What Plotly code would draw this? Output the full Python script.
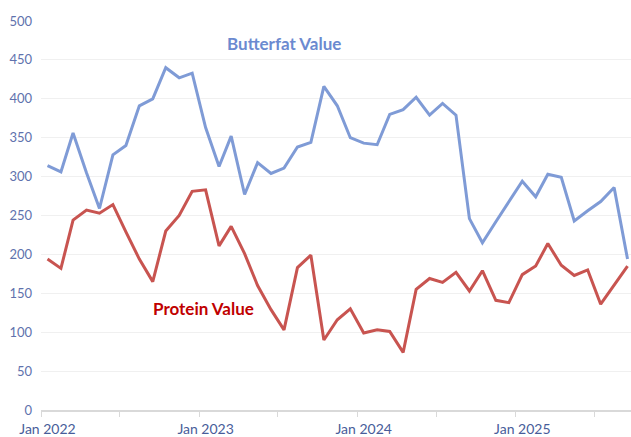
import pandas as pd
import plotly.graph_objs as go

FONT = "Lato"
BLUE_LINE = "#7f9bd6"
RED_LINE = "#c85450"

# monthly values, Jan 2022 - Sep 2025
months = pd.date_range("2022-01-01", periods=45, freq="MS")

butterfat = [314, 306, 356, 305, 259, 328, 340, 391, 400, 440, 427, 433,
             363, 313, 352, 277, 318, 304, 311, 338, 344, 416, 391, 350,
             343, 341, 380, 386, 402, 379, 394, 379, 246, 215, 242, 268,
             294, 274, 303, 299, 243, 256, 268, 286, 194]

protein = [194, 182, 244, 257, 253, 264, 229, 194, 165, 230, 250, 281,
           283, 211, 236, 201, 160, 129, 103, 183, 199, 90, 116, 130,
           99, 103, 101, 74, 155, 169, 164, 177, 153, 179, 141, 138,
           174, 185, 214, 186, 173, 180, 136, 160, 185]

year_ticks = ["2022-01-01", "2023-01-01", "2024-01-01", "2025-01-01"]
year_labels = ["Jan 2022", "Jan 2023", "Jan 2024", "Jan 2025"]
half_year_marks = list(months[::6] - pd.Timedelta(days=15))

fig = go.Figure()
fig.add_trace(go.Scatter(x=months, y=butterfat, name="Butterfat Value",
                         mode="lines", line=dict(color=BLUE_LINE, width=3)))
fig.add_trace(go.Scatter(x=months, y=protein, name="Protein Value",
                         mode="lines", line=dict(color=RED_LINE, width=3)))

fig.add_annotation(x="2023-07-02", y=471, text="<b>Butterfat Value</b>",
                   showarrow=False, font=dict(family=FONT, size=17, color="#6b8ad0"))
fig.add_annotation(x="2022-12-27", y=130, text="<b>Protein Value</b>",
                   showarrow=False, font=dict(family=FONT, size=17, color="#c00000"))

fig.update_xaxes(range=["2021-12-17", "2025-09-09"],
                 tickmode="array", tickvals=year_ticks, ticktext=year_labels,
                 ticks="", showgrid=False, ticklabelstandoff=5,
                 showline=True, linecolor="#d9d9d9", linewidth=1.5,
                 tickfont=dict(family=FONT, size=14, color="#485d9a"),
                 minor=dict(tickmode="array", tickvals=half_year_marks,
                            ticks="outside", ticklen=5, tickcolor="#d9d9d9",
                            showgrid=False))
fig.update_yaxes(range=[0, 500], dtick=50, showgrid=True,
                 gridcolor="#f0f0f0", gridwidth=1, zeroline=False,
                 ticklabelstandoff=8,
                 tickfont=dict(family=FONT, size=13, color="#6072ad"))

fig.update_layout(width=631, height=437,
                  margin=dict(l=41, r=0, t=21, b=25),
                  showlegend=False,
                  plot_bgcolor="white", paper_bgcolor="white")

# drop the default page margin so the figure fills the window
fig.write_html("out.html", config={"displayModeBar": False},
               post_script="document.body.style.margin = '0';")
